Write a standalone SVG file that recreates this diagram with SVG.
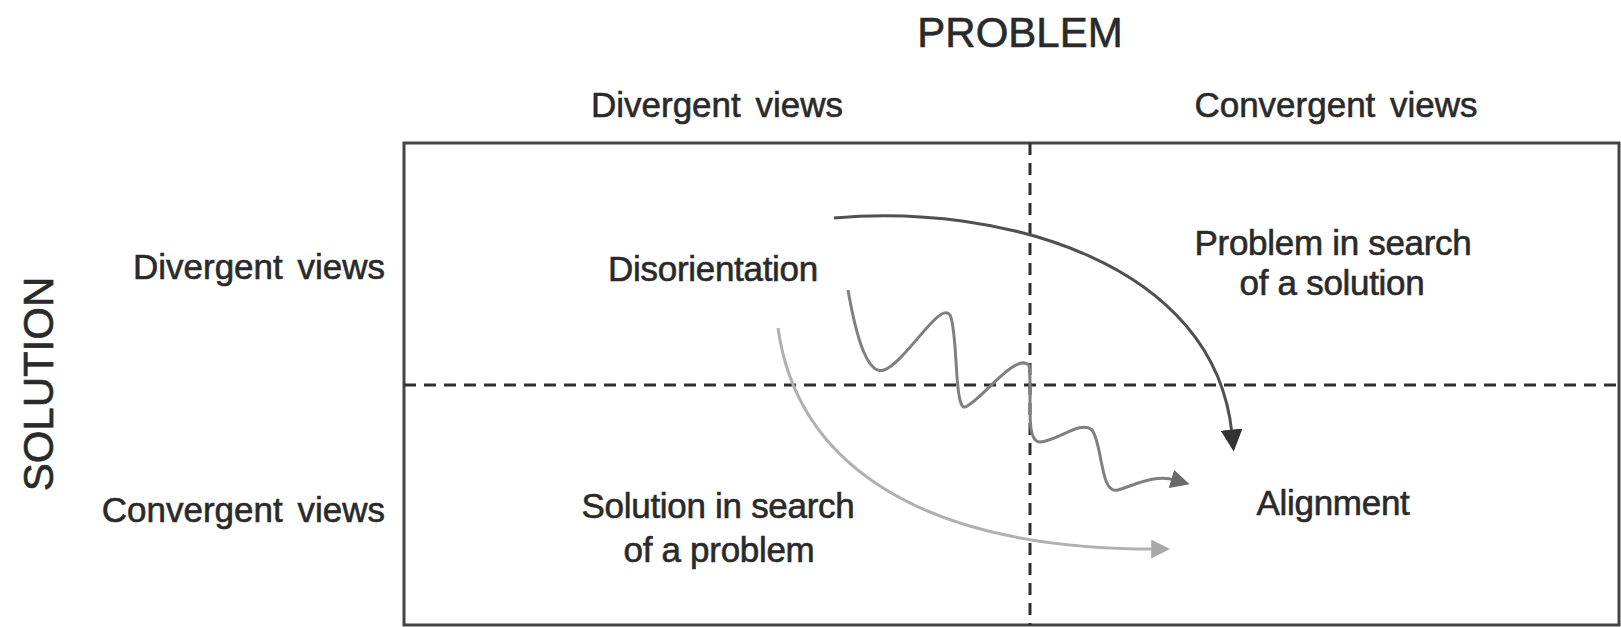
<svg xmlns="http://www.w3.org/2000/svg" width="1621" height="627" viewBox="0 0 1621 627">
  <style>
    text { font-family: "Liberation Sans", Arial, sans-serif; fill: #2a2a2a; stroke: #2a2a2a; stroke-width: 0.6px; }
    .axis { font-size: 42px; }
    .hdr { font-size: 35px; word-spacing: 5px; }
    .lbl { font-size: 35px; letter-spacing: -0.3px; }
    .mid { text-anchor: middle; }
    .end { text-anchor: end; }
    .frame { fill: none; stroke: #444; stroke-width: 3; }
    .dash { stroke: #2e2e2e; stroke-width: 3; stroke-dasharray: 12 8; fill: none; }
    .c-dark { fill: none; stroke: #505050; stroke-width: 3; }
    .c-mid { fill: none; stroke: #808080; stroke-width: 3; }
    .c-light { fill: none; stroke: #b0b0b0; stroke-width: 3; }
  </style>
  <defs>
    <marker id="ah-dark" viewBox="0 0 20 20" refX="4" refY="10" markerWidth="22" markerHeight="22" markerUnits="userSpaceOnUse" orient="auto">
      <path d="M0,0 L20,10 L0,20 Z" fill="#333"/>
    </marker>
    <marker id="ah-mid" viewBox="0 0 20 20" refX="4" refY="10" markerWidth="19" markerHeight="19" markerUnits="userSpaceOnUse" orient="auto">
      <path d="M0,0 L20,10 L0,20 Z" fill="#6a6a6a"/>
    </marker>
    <marker id="ah-light" viewBox="0 0 20 20" refX="4" refY="10" markerWidth="19" markerHeight="19" markerUnits="userSpaceOnUse" orient="auto">
      <path d="M0,0 L20,10 L0,20 Z" fill="#a8a8a8"/>
    </marker>
  </defs>
  <rect width="1621" height="627" fill="#ffffff"/>

  <g id="axes">
    <text class="axis mid" x="1020" y="47">PROBLEM</text>
    <text class="axis mid" transform="translate(53,384) rotate(-90)">SOLUTION</text>
    <text class="hdr mid" x="717" y="117">Divergent views</text>
    <text class="hdr mid" x="1336" y="117">Convergent views</text>
    <text class="hdr end" x="385" y="279">Divergent views</text>
    <text class="hdr end" x="385" y="522">Convergent views</text>
  </g>

  <g id="grid">
    <rect class="frame" x="404" y="143" width="1215" height="482"/>
    <line class="dash" x1="1030" y1="143" x2="1030" y2="625"/>
    <line class="dash" x1="404" y1="385" x2="1619" y2="385"/>
  </g>

  <g id="node-disorientation">
    <text class="lbl mid" x="713" y="281">Disorientation</text>
  </g>
  <g id="node-problem-in-search">
    <text class="lbl mid" x="1333" y="255">Problem in search</text>
    <text class="lbl mid" x="1332" y="295">of a solution</text>
  </g>
  <g id="node-solution-in-search">
    <text class="lbl mid" x="718" y="518">Solution in search</text>
    <text class="lbl mid" x="719" y="562">of a problem</text>
  </g>
  <g id="node-alignment">
    <text class="lbl mid" x="1333" y="515">Alignment</text>
  </g>

  <g id="connectors">
    <path class="c-dark" d="M834,218 C1000,203 1215,262 1232,434" marker-end="url(#ah-dark)"/>
    <path class="c-mid" d="M848,290 C855,330 866,376 884,370 C905,363 940,300 950,315 C958,330 954,410 965,407 C980,402 1015,352 1029,365 C1033,392 1024,442 1040,442 C1060,440 1080,420 1092,430 C1103,445 1100,495 1118,490 C1135,485 1155,474 1175,480" marker-end="url(#ah-mid)"/>
    <path class="c-light" d="M778,328 C795,450 900,549 1155,549" marker-end="url(#ah-light)"/>
  </g>
</svg>
